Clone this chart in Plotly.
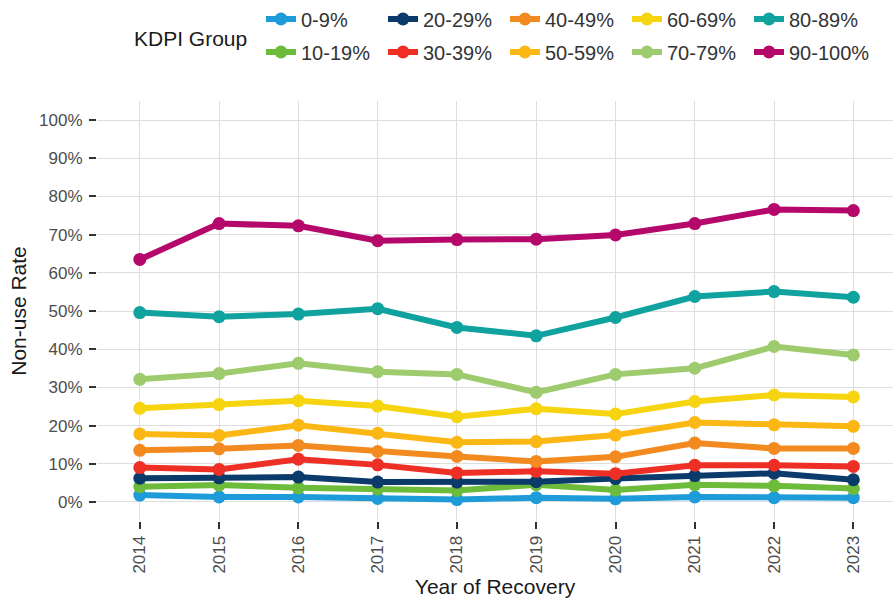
import plotly.graph_objects as go

years = [2014, 2015, 2016, 2017, 2018, 2019, 2020, 2021, 2022, 2023]

groups = ["0-9%", "10-19%", "20-29%", "30-39%", "40-49%",
          "50-59%", "60-69%", "70-79%", "80-89%", "90-100%"]

g_0_9 = [1.8, 1.3, 1.3, 0.9, 0.6, 1.1, 0.8, 1.3, 1.1, 1.1]
g_10_19 = [4.0, 4.4, 3.7, 3.4, 3.0, 4.5, 3.1, 4.5, 4.2, 3.5]
g_20_29 = [6.2, 6.3, 6.5, 5.2, 5.2, 5.3, 6.1, 6.9, 7.5, 5.8]
g_30_39 = [9.0, 8.5, 11.2, 9.7, 7.6, 8.0, 7.4, 9.6, 9.6, 9.3]
g_40_49 = [13.5, 13.9, 14.8, 13.2, 11.9, 10.6, 11.8, 15.4, 14.0, 14.0]
g_50_59 = [17.8, 17.4, 20.1, 18.0, 15.6, 15.8, 17.5, 20.8, 20.2, 19.8]
g_60_69 = [24.5, 25.5, 26.5, 25.1, 22.3, 24.4, 23.0, 26.3, 28.0, 27.5]
g_70_79 = [32.1, 33.6, 36.3, 34.1, 33.4, 28.7, 33.4, 35.0, 40.7, 38.5]
g_80_89 = [49.6, 48.5, 49.2, 50.6, 45.7, 43.5, 48.3, 53.8, 55.1, 53.6]
g_90_100 = [63.5, 72.9, 72.3, 68.4, 68.7, 68.8, 69.9, 72.9, 76.6, 76.3]

series = [g_0_9, g_10_19, g_20_29, g_30_39, g_40_49,
          g_50_59, g_60_69, g_70_79, g_80_89, g_90_100]

colors = ["#1E9BD9", "#6DBB3A", "#0B3B6A", "#EE2F25", "#F28A20",
          "#FBB814", "#F7D410", "#9DCB6E", "#10A29F", "#B5086B"]

y_ticks = list(range(0, 101, 10))
y_labels = [f"{v}%" for v in y_ticks]

FONT = "Liberation Sans, Arial, Helvetica, sans-serif"

fig = go.Figure()
for i, (name, vals, col) in enumerate(zip(groups, series, colors)):
    fig.add_trace(go.Scatter(
        x=years, y=vals, name=name, mode="lines+markers",
        line=dict(color=col, width=6),
        marker=dict(color=col, size=13),
        legend="legend" if i % 2 == 0 else "legend2",
    ))

leg_common = dict(
    orientation="h", xref="container", yref="container",
    xanchor="left", yanchor="middle",
    font=dict(family=FONT, size=20, color="#333333"),
    bgcolor="rgba(0,0,0,0)", entrywidth=77, entrywidthmode="pixels",
    itemwidth=30, traceorder="normal",
)

fig.update_layout(
    width=893, height=602,
    margin=dict(l=97, r=0, t=101, b=81),
    paper_bgcolor="white", plot_bgcolor="white",
    font=dict(family=FONT, size=17, color="#4D4D4D"),
    legend=dict(x=261 / 893, y=1 - 19 / 602, **leg_common),
    legend2=dict(x=261 / 893, y=1 - 52 / 602, **leg_common),
    annotations=[dict(
        text="KDPI Group", xref="paper", yref="paper",
        x=(132 - 97) / 796, y=(521 - 38) / 420,
        xanchor="left", yanchor="middle",
        showarrow=False, font=dict(family=FONT, size=21, color="#1A1A1A"),
    )],
    xaxis=dict(
        range=[2013.46, 2023.5], tickvals=years,
        ticktext=[str(y) for y in years], tickangle=-90,
        showgrid=True, gridcolor="#DEDEDE", gridwidth=1,
        zeroline=False, showline=False,
        ticks="outside", ticklen=7, tickwidth=1.5, tickcolor="#333333",
        tickfont=dict(family=FONT, size=17, color="#4D4D4D"),
        title=dict(text="Year of Recovery", standoff=6,
                   font=dict(family=FONT, size=21, color="#1A1A1A")),
    ),
    yaxis=dict(
        range=[-5, 105], tickvals=y_ticks, ticktext=y_labels,
        showgrid=True, gridcolor="#DEDEDE", gridwidth=1,
        zeroline=False, showline=False,
        ticks="outside", ticklen=7, tickwidth=1.5, tickcolor="#333333",
        ticklabelstandoff=3,
        tickfont=dict(family=FONT, size=17, color="#4D4D4D"),
        title=dict(text="Non-use Rate", standoff=6,
                   font=dict(family=FONT, size=21, color="#1A1A1A")),
    ),
)

fig.write_html("out.html")
